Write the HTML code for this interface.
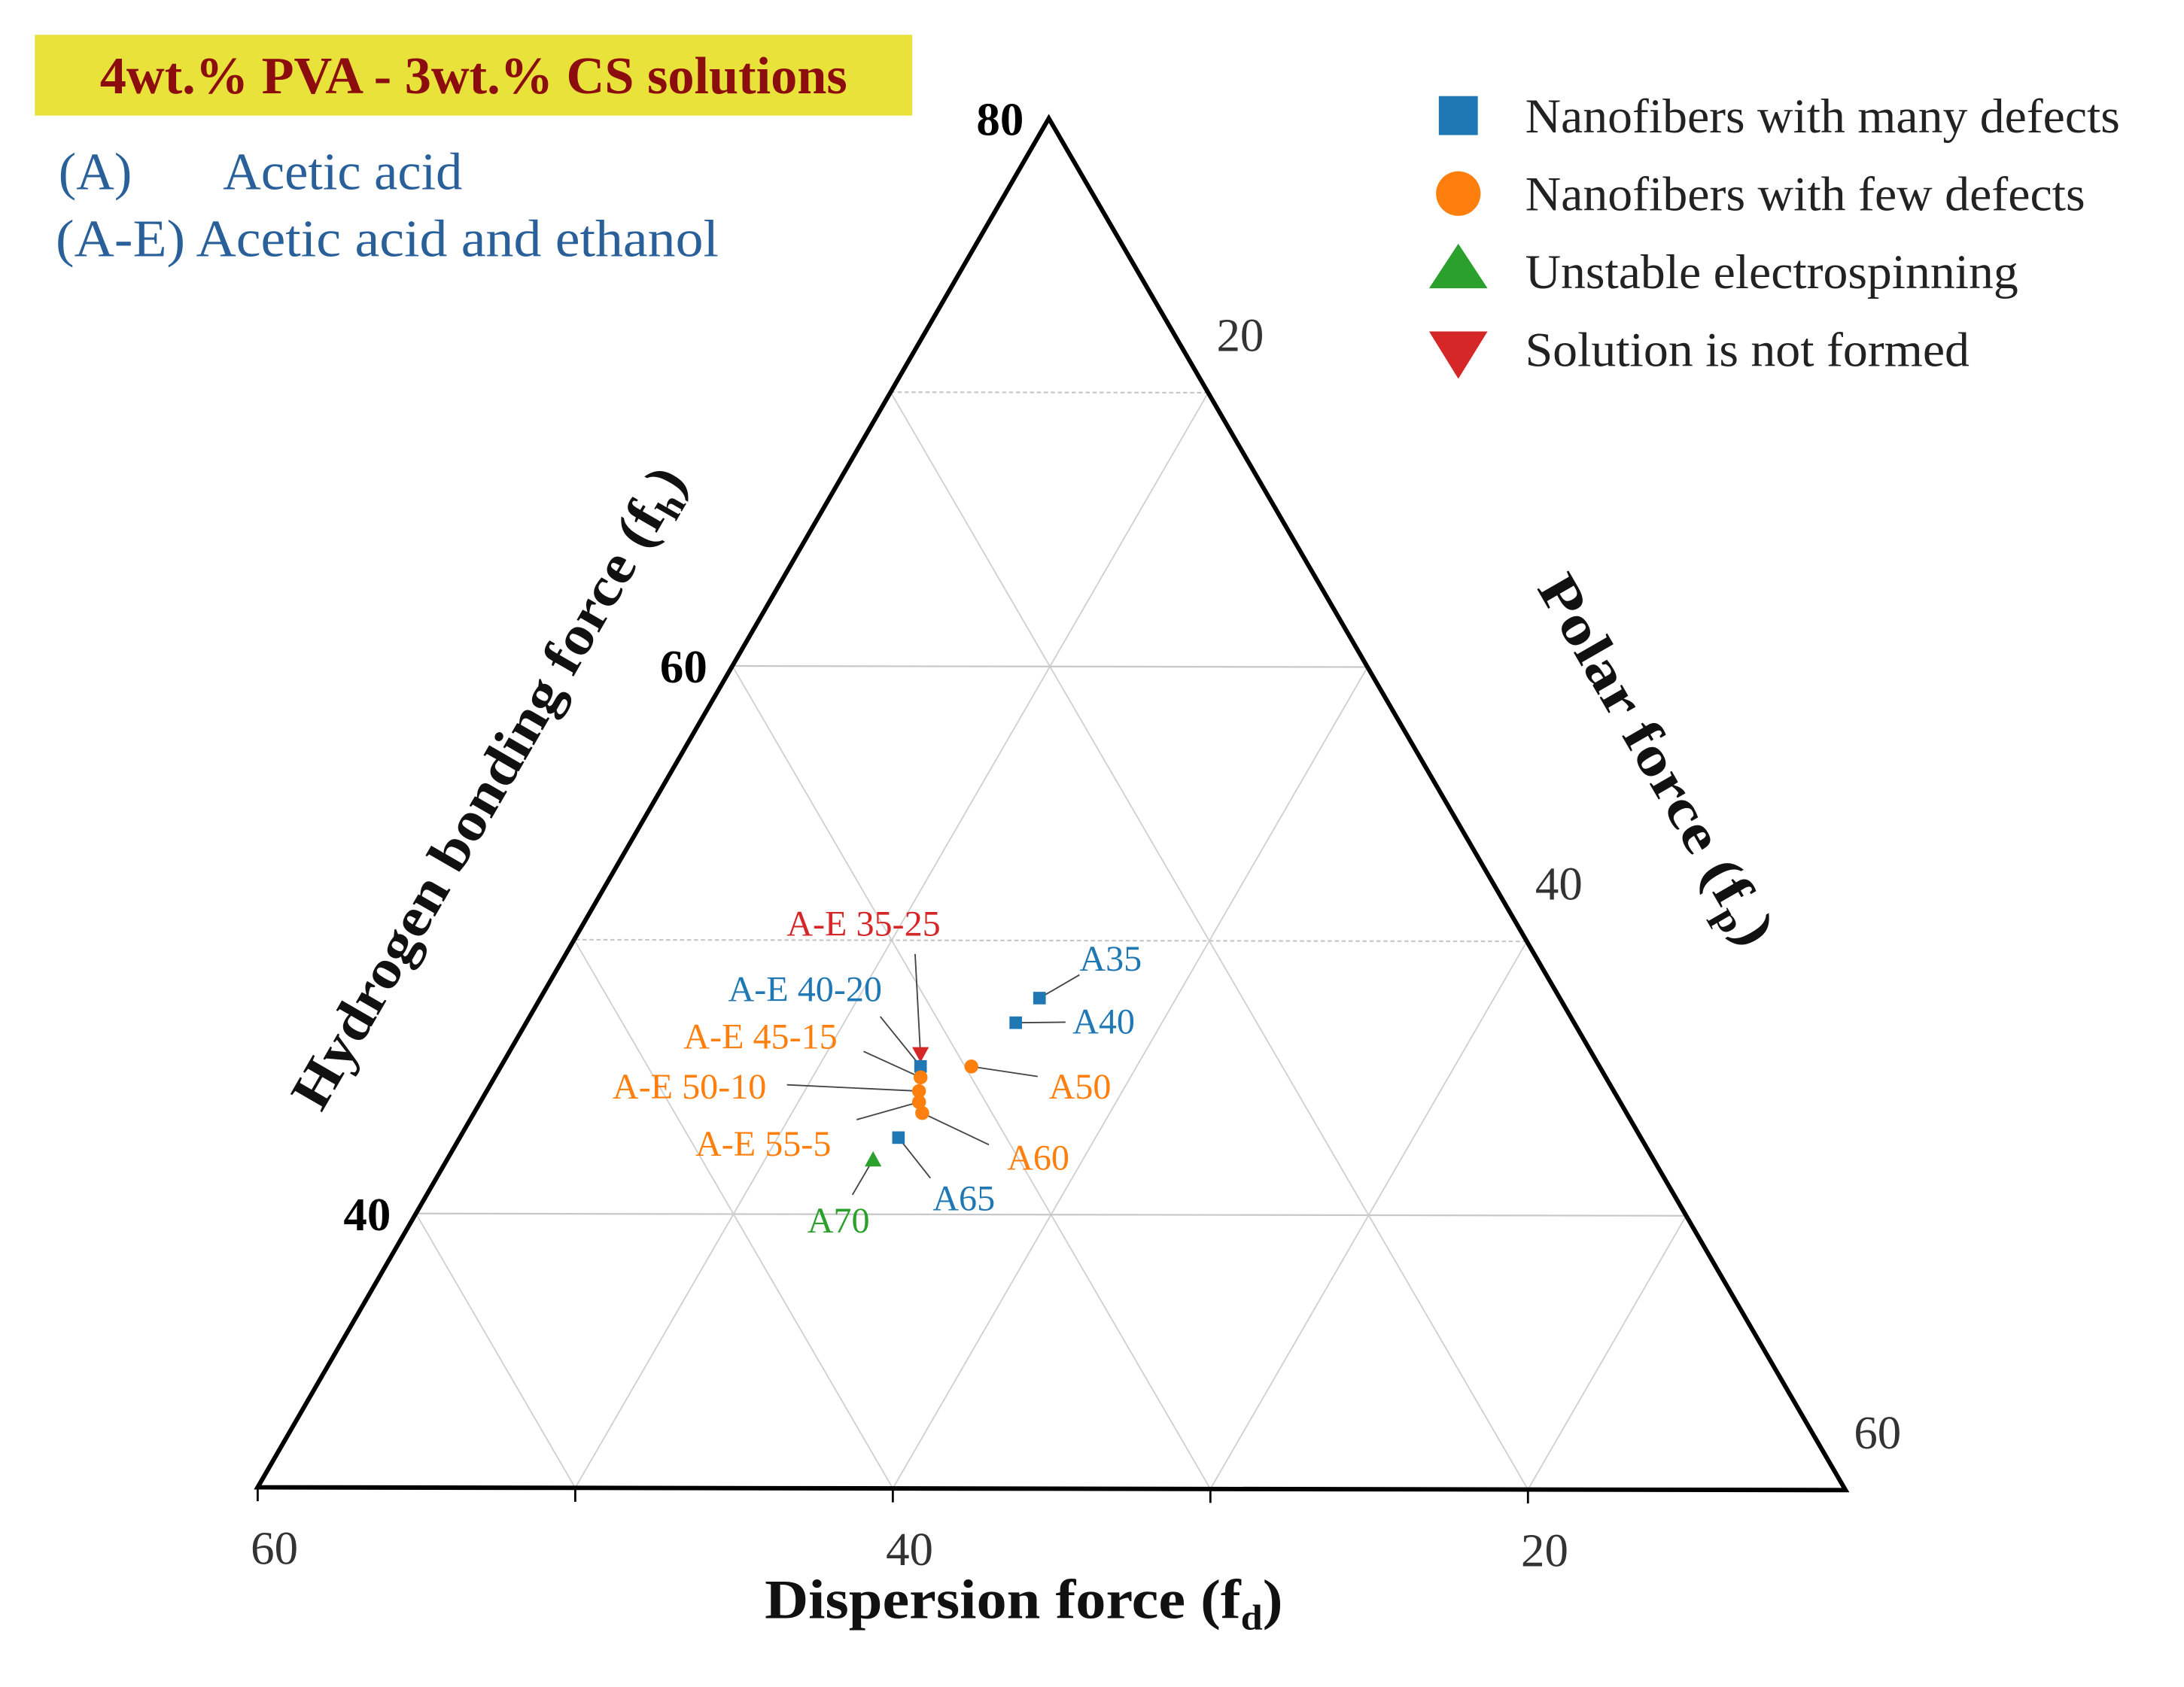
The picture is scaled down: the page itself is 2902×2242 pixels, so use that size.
<!DOCTYPE html>
<html><head><meta charset="utf-8"><style>
html,body{margin:0;padding:0;background:#fff}
svg{display:block}
text{font-family:"Liberation Serif",serif}
</style></head><body>
<svg id="chart" width="2902" height="2242" viewBox="0 0 1568 1211.4" xmlns="http://www.w3.org/2000/svg">
<rect x="0" y="0" width="1570" height="1212" fill="#fff"/>
<rect x="25" y="25" width="630" height="58" fill="#e8e23a"/>
<text x="340" y="67" text-anchor="middle" font-size="38" font-weight="bold" fill="#8b0d0d">4wt.% PVA - 3wt.% CS solutions</text>
<text x="42" y="136" font-size="38" fill="#2a6099">(A)</text>
<text x="160" y="136" font-size="38" fill="#2a6099">Acetic acid</text>
<text x="40" y="184" font-size="38" fill="#2a6099" textLength="476" lengthAdjust="spacingAndGlyphs">(A-E) Acetic acid and ethanol</text>
<g id="grid"></g>
<g id="frame"></g>
<g id="leaders"></g>
<g id="marks"></g>
<g id="labels"></g>
<g id="ticks"></g>
<text x="735" y="1162" text-anchor="middle" font-size="40" font-weight="bold" fill="#111" textLength="372" lengthAdjust="spacingAndGlyphs">Dispersion force (f<tspan font-size="26" dy="8">d</tspan><tspan dy="-8">)</tspan></text>
<text transform="translate(362,572) rotate(-60)" text-anchor="middle" font-size="40" font-weight="bold" fill="#111" textLength="525" lengthAdjust="spacingAndGlyphs">Hydrogen bonding force (f<tspan font-size="26" dy="8">h</tspan><tspan dy="-8">)</tspan></text>
<text transform="translate(1178,552) rotate(60)" text-anchor="middle" font-size="40" font-weight="bold" fill="#111" textLength="300" lengthAdjust="spacingAndGlyphs">Polar force (f<tspan font-size="26" dy="8">p</tspan><tspan dy="-8">)</tspan></text>
<g>
<rect x="1033" y="69" width="28" height="28" fill="#1f77b4"/>
<text x="1095" y="95" font-size="35" fill="#222" textLength="427" lengthAdjust="spacingAndGlyphs">Nanofibers with many defects</text>
<circle cx="1047" cy="139" r="16" fill="#ff7f0e"/>
<text x="1095" y="151" font-size="35" fill="#222" textLength="402" lengthAdjust="spacingAndGlyphs">Nanofibers with few defects</text>
<polygon points="1047,175 1068,207 1026,207" fill="#2ca02c"/>
<text x="1095" y="207" font-size="35" fill="#222" textLength="354" lengthAdjust="spacingAndGlyphs">Unstable electrospinning</text>
<polygon points="1026,238 1068,238 1047,272" fill="#d62728"/>
<text x="1095" y="263" font-size="35" fill="#222" textLength="319" lengthAdjust="spacingAndGlyphs">Solution is not formed</text>
</g>
</svg>
<script>
const pointNames = ["A35","A40","A50","A-E 35-25","A-E 40-20","A-E 45-15","A-E 50-10","A-E 55-5","A60","A65","A70"];
const fhValues = [47.9,47.0,45.4,45.8,45.4,45.0,44.5,44.1,43.7,42.8,42.0];
const fpValues = [25.7,25.4,24.8,23.0,23.2,23.4,23.6,23.8,24.1,23.8,23.4];
const fdValues = [26.4,27.6,29.8,31.2,31.4,31.6,31.9,32.1,32.2,33.4,34.6];
const categories = ["many","many","few","notformed","many","few","few","few","few","many","unstable"];
const tickValues = [20,30,40,50,60,70];
const NS="http://www.w3.org/2000/svg";
const T={x:753,y:85}, BL={x:185,y:1068}, BR={x:1325,y:1070};
const MINH=30, MINP=10, MIND=10, SPAN=50;
function pos(fh,fp,fd){
  const a=(fh-MINH)/SPAN, b=(fp-MINP)/SPAN, c=(fd-MIND)/SPAN;
  const s=a+b+c;
  return {x:(a*T.x+b*BR.x+c*BL.x)/s, y:(a*T.y+b*BR.y+c*BL.y)/s};
}
function mk(tag,attrs,parent){const e=document.createElementNS(NS,tag);for(const k in attrs)e.setAttribute(k,attrs[k]);parent.appendChild(e);return e;}
const grid=document.getElementById('grid');
tickValues.forEach(v=>{
  if(v>MINH&&v<MINH+SPAN){
    const p1=pos(v,MINP+SPAN-(v-MINH),MIND), p2=pos(v,MINP,MIND+SPAN-(v-MINH));
    const l=mk('line',{x1:p1.x,y1:p1.y,x2:p2.x,y2:p2.y,stroke:'#c8c8c8','stroke-width':1.2,'stroke-dasharray':(v%20===0)?'':'3,2'},grid);
    
    
  }
  if(v>MINP&&v<MINP+SPAN){
    const r=SPAN-(v-MINP);
    const p1=pos(MINH+r,v,MIND), p2=pos(MINH,v,MIND+r);
    const l=mk('line',{x1:p1.x,y1:p1.y,x2:p2.x,y2:p2.y,stroke:'#d0d0d0','stroke-width':1},grid);
    
    
  }
  if(v>MIND&&v<MIND+SPAN){
    const r=SPAN-(v-MIND);
    const p1=pos(MINH+r,MINP,v), p2=pos(MINH,MINP+r,v);
    const l=mk('line',{x1:p1.x,y1:p1.y,x2:p2.x,y2:p2.y,stroke:'#d0d0d0','stroke-width':1},grid);
    
    
  }
});
const frame=document.getElementById('frame');
const tri=mk('polygon',{points:`${T.x},${T.y} ${BR.x},${BR.y} ${BL.x},${BL.y}`,fill:'none',stroke:'#000','stroke-width':3.2,'stroke-linejoin':'miter'},frame);


const ticks=document.getElementById('ticks');
[20,40,60].forEach(v=>{
  const p=pos(MINH,MINP+SPAN-(v-MIND),v);
  mk('line',{x1:p.x,y1:p.y,x2:p.x,y2:p.y+10,stroke:'#000','stroke-width':1.5},ticks);
  const t=mk('text',{x:p.x+12,y:p.y+55,'text-anchor':'middle','font-size':34,fill:'#333'},ticks);
  t.textContent=v;
  
  
});
[30,50].forEach(v=>{const p=pos(MINH,MINP+SPAN-(v-MIND),v);mk('line',{x1:p.x,y1:p.y,x2:p.x,y2:p.y+10,stroke:'#000','stroke-width':1.5},ticks);});
[40,60,80].forEach(v=>{
  const p=pos(v,MINP,MIND+SPAN-(v-MINH));
  const t=mk('text',{x:p.x-18,y:p.y+12,'text-anchor':'end','font-size':34,'font-weight':'bold',fill:'#000'},ticks);
  t.textContent=v;
  
  
});
[20,40,60].forEach(v=>{
  const p=pos(MINH+SPAN-(v-MINP),v,MIND);
  const t=mk('text',{x:p.x+6,y:p.y-30,'font-size':34,fill:'#333'},ticks);
  t.textContent=v;
  
  
});
const colors={many:'#1f77b4',few:'#ff7f0e',unstable:'#2ca02c',notformed:'#d62728'};
const labelColors=["#1f77b4","#1f77b4","#ff7f0e","#d62728","#1f77b4","#ff7f0e","#ff7f0e","#ff7f0e","#ff7f0e","#1f77b4","#2ca02c"];
const labelX=[775,770,753,620,578,546,495,548,723,692,602];
const labelY=[697,742,789,672,719,753,789,830,840,869,885];
const anchors=["start","start","start","middle","middle","middle","middle","middle","start","middle","middle"];
const leadX=[775,765,745,657,632,620,565,615,710,668,612];
const leadY=[700,734,773,685,730,755,779,804,822,846,858];
const marks=document.getElementById('marks'), labels=document.getElementById('labels'), leaders=document.getElementById('leaders');
pointNames.forEach((n,i)=>{
  const p=pos(fhValues[i],fpValues[i],fdValues[i]);
  const ld=mk('line',{x1:leadX[i],y1:leadY[i],x2:p.x,y2:p.y,stroke:'#444','stroke-width':1},leaders);
  
  
  const c=colors[categories[i]];let m;
  if(categories[i]==='many') m=mk('rect',{x:p.x-4.5,y:p.y-4.5,width:9,height:9,fill:c},marks);
  else if(categories[i]==='few') m=mk('circle',{cx:p.x,cy:p.y,r:5,fill:c},marks);
  else if(categories[i]==='unstable') m=mk('polygon',{points:`${p.x},${p.y-6} ${p.x+6},${p.y+5} ${p.x-6},${p.y+5}`,fill:c},marks);
  else m=mk('polygon',{points:`${p.x-6},${p.y-6} ${p.x+6},${p.y-6} ${p.x},${p.y+5}`,fill:c},marks);
  
  
  const t=mk('text',{x:labelX[i],y:labelY[i],'text-anchor':anchors[i],'font-size':26,fill:labelColors[i]},labels);
  t.textContent=n;
  
  
});
</script>
</body></html>
